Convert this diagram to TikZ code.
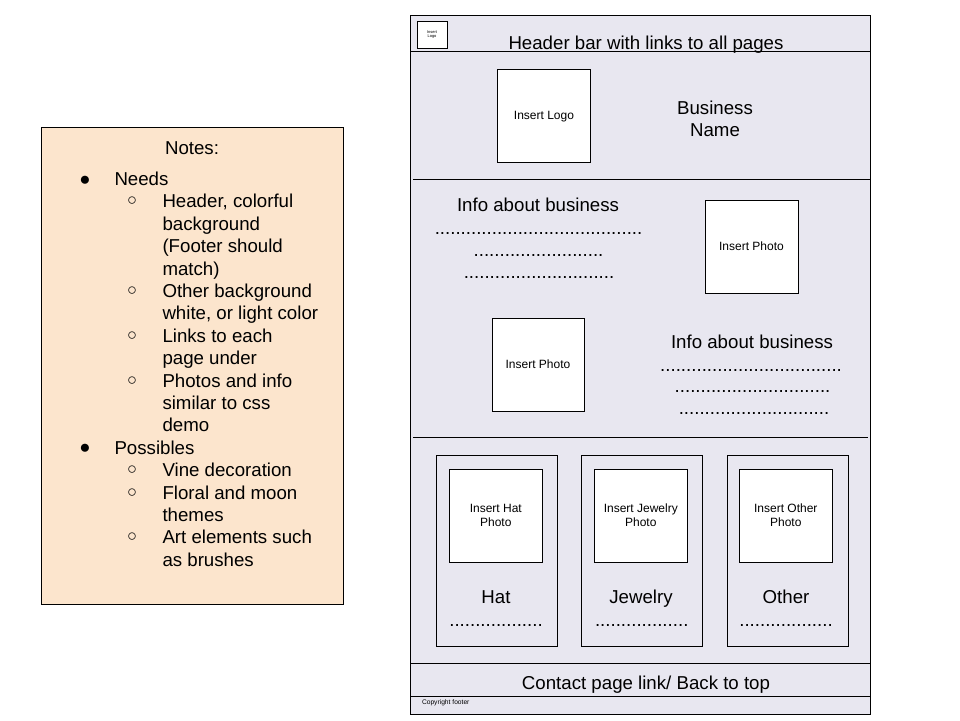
\documentclass[tikz,border=0pt]{standalone}
\usepackage{fontspec}
\setmainfont{Liberation Sans}
\definecolor{notesbg}{HTML}{FCE5CD}
\definecolor{pagebg}{HTML}{E8E7F0}
\newcommand{\fbig}{\fontsize{18.67}{22.4}\selectfont}
\newcommand{\fsm}{\fontsize{12}{13.6}\selectfont}
\newcommand{\fcirc}{\fontsize{16.5}{18}\selectfont}
\newcommand{\ftiny}{\fontsize{4}{4.6}\selectfont}
\newcommand{\fcopy}{\fontsize{6.67}{7.6}\selectfont}
\newcommand{\tp}{\rule{0pt}{16pt}}
\begin{document}
\begin{tikzpicture}[x=1pt,y=-1pt,
  line width=1pt,
  box/.style={draw=black, fill=white, inner sep=0pt, align=center, font=\fsm},
  card/.style={draw=black, fill=pagebg, inner sep=0pt, minimum width=121pt, minimum height=190.7pt},
  big/.style={inner sep=0pt, font=\fbig, anchor=base},
  item/.style={inner sep=0pt, font=\fbig, anchor=north west, align=left},
  dots/.style={inner sep=0pt, font=\fbig, anchor=base},
  bul/.style={inner sep=0pt, font=\fbig, anchor=base},
  sbul/.style={inner sep=0pt, font=\fcirc, anchor=base, yshift=1.5pt},
  rule/.style={draw=black, line width=1pt}]
\useasboundingbox (0,0) rectangle (960,720);

% ---------- Notes ----------
\draw[fill=notesbg, draw=black] (41,127) rectangle (343,604);
\node[big] (notes) at (192,154) {Notes:};
\node[bul] (b1) at (85,185) {●};
\node[item] (needs) at (114,169) {\tp Needs};
\node[sbul] (s1) at (132,207.4) {○};
\node[item] (n1) at (162,191.4) {\tp Header, colorful\\background\\(Footer should\\match)};
\node[sbul] (s2) at (132,297) {○};
\node[item] (n2) at (162,281) {\tp Other background\\white, or light color};
\node[sbul] (s3) at (132,341.8) {○};
\node[item] (n3) at (162,325.8) {\tp Links to each\\page under};
\node[sbul] (s4) at (132,386.6) {○};
\node[item] (n4) at (162,370.6) {\tp Photos and info\\similar to css\\demo};
\node[bul] (b2) at (85,453.8) {●};
\node[item] (poss) at (114,437.8) {\tp Possibles};
\node[sbul] (s5) at (132,476.2) {○};
\node[item] (p1) at (162,460.2) {\tp Vine decoration};
\node[sbul] (s6) at (132,498.6) {○};
\node[item] (p2) at (162,482.6) {\tp Floral and moon\\themes};
\node[sbul] (s7) at (132,543.4) {○};
\node[item] (p3) at (162,527.4) {\tp Art elements such\\as brushes};

% ---------- Page mock-up ----------
\draw[fill=pagebg, draw=black] (410,15) rectangle (870,714);
\coordinate (h1) at (410,51);   \coordinate (h2) at (870,51);
\coordinate (l1a) at (413,179.5); \coordinate (l1b) at (870,179.5);
\coordinate (l2a) at (413,437); \coordinate (l2b) at (868,437);
\coordinate (f1a) at (410,663); \coordinate (f1b) at (870,663);
\coordinate (f2a) at (410,696); \coordinate (f2b) at (870,696);
\draw[rule] (h1) -- (h2);
\draw[rule] (l1a) -- (l1b);
\draw[rule] (l2a) -- (l2b);
\draw[rule] (f1a) -- (f1b);
\draw[rule] (f2a) -- (f2b);

% header
\node[box, font=\ftiny, minimum width=30pt, minimum height=27pt] (smalllogo) at (432,34.5) {Insert\\Logo};
\node[big] (header) at (646,49) {Header bar with links to all pages};

% logo / name
\node[box, text depth=0pt, minimum width=93pt, minimum height=93pt] (logo) at (544,115.7) {Insert Logo};
\node[inner sep=0pt, font=\fbig, align=center] (bname) at (715,119) {Business\\Name};

% info section
\node[big] (info1) at (538,211.7) {Info about business};
\node[dots] (d11) at (538.5,234) {........................................};
\node[dots] (d12) at (538.5,256) {.........................};
\node[dots] (d13) at (539,278) {.............................};
\node[box, minimum width=93pt, minimum height=93pt] (photo1) at (751.5,246.5) {Insert Photo};

\node[box, minimum width=92pt, minimum height=93pt] (photo2) at (538,364.5) {Insert Photo};
\node[big] (info2) at (752,348.3) {Info about business};
\node[dots] (d21) at (751,371) {...................................};
\node[dots] (d22) at (752.5,392) {..............................};
\node[dots] (d23) at (754,414) {.............................};

% cards
\node[card] (card1) at (497.2,551.3) {};
\node[card] (card2) at (642,551.3) {};
\node[card] (card3) at (787.5,551.3) {};
\node[box, minimum width=93pt, minimum height=93pt] (hatph) at (495.8,515.5) {Insert Hat\\Photo};
\node[box, minimum width=93pt, minimum height=93pt] (jewph) at (640.8,515.5) {Insert Jewelry\\Photo};
\node[box, minimum width=93pt, minimum height=93pt] (othph) at (785.8,515.5) {Insert Other\\Photo};
\node[big] (hat) at (496,603.5) {Hat};
\node[big] (jew) at (641,603.5) {Jewelry};
\node[big] (oth) at (786,603.5) {Other};
\node[dots] (hd) at (496,626) {..................};
\node[dots] (jd) at (641.7,626) {..................};
\node[dots] (od) at (786,626) {..................};

% footer
\node[big] (contact) at (646,689) {Contact page link/ Back to top};
\node[inner sep=0pt, font=\fcopy, anchor=base west] (copy) at (421.5,704) {Copyright footer};
\end{tikzpicture}
\end{document}
